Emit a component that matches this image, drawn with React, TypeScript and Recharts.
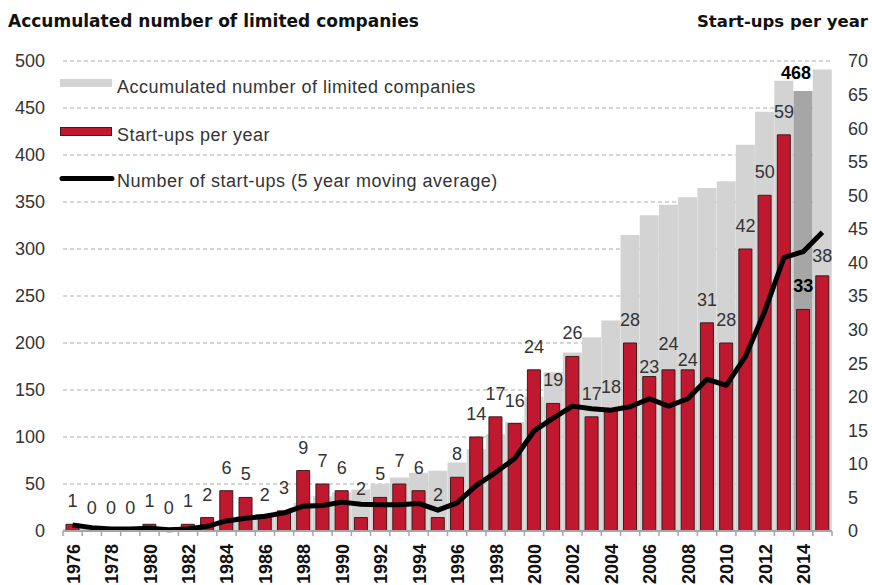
import { Bar, CartesianGrid, Cell, ComposedChart, LabelList, Line, XAxis, YAxis } from 'recharts'

const years = [
  1976, 1977, 1978, 1979, 1980, 1981, 1982, 1983, 1984, 1985,
  1986, 1987, 1988, 1989, 1990, 1991, 1992, 1993, 1994, 1995,
  1996, 1997, 1998, 1999, 2000, 2001, 2002, 2003, 2004, 2005,
  2006, 2007, 2008, 2009, 2010, 2011, 2012, 2013, 2014, 2015,
]

// start-ups per year (right axis)
const startups = [
  1, 0, 0, 0, 1, 0, 1, 2, 6, 5,
  2, 3, 9, 7, 6, 2, 5, 7, 6, 2,
  8, 14, 17, 16, 24, 19, 26, 17, 18, 28,
  23, 24, 24, 31, 28, 42, 50, 59, 33, 38,
]

// accumulated number of limited companies (left axis)
const accumulated = [
  2, 2, 2, 2, 3, 3, 4, 6, 12, 16,
  18, 21, 30, 37, 41, 44, 50, 57, 62, 64,
  73, 87, 103, 116, 143, 169, 190, 206, 224, 315,
  336, 347, 355, 365, 372, 411, 446, 479, 468, 491,
]

// 5 year moving average (right axis)
const movingAvg = [
  0.9, 0.5, 0.3, 0.3, 0.4, 0.2, 0.3, 0.7, 1.5, 1.9,
  2.2, 2.7, 3.7, 3.8, 4.3, 4.0, 3.9, 3.9, 4.1, 3.1,
  4.2, 6.8, 8.7, 10.8, 14.9, 16.8, 18.6, 18.2, 18.0, 18.5,
  19.7, 18.6, 19.7, 22.6, 21.7, 26.0, 32.7, 40.7, 41.6, 44.5,
]

const leftTicks = [0, 50, 100, 150, 200, 250, 300, 350, 400, 450, 500]
const rightTicks = [0, 5, 10, 15, 20, 25, 30, 35, 40, 45, 50, 55, 60, 65, 70]

const HIGHLIGHT_YEAR = 2014

const data = years.map((year, i) => ({
  year,
  startups: startups[i],
  accumulated: accumulated[i],
  avg: movingAvg[i],
}))

const W = 872
const H = 585
const LEFT_W = 63
const RIGHT_W = 40
const TOP = 61
const X_H = 54
const BAND = (W - LEFT_W - RIGHT_W) / years.length

const FONT = '"Liberation Sans", Arial, Helvetica, sans-serif'
const TITLE_FONT = '"DejaVu Sans", "Liberation Sans", Arial, sans-serif'
const RED = '#c0182f'
const GRAY = '#d3d3d3'
const DARK_GRAY = '#a6a6a6'
const TEXT = '#333333'
const AXIS = '#a6a6a6'

// a few labels are nudged up/down in the original to avoid collisions
const LABEL_NUDGE: Record<number, number> = { 1991: -6, 2006: 13, 2007: -3, 2008: 13, 2015: 3 }

function YearTick(props: any) {
  const { x, y, payload, index } = props
  const year = payload.value as number
  const left = x - BAND / 2
  return (
    <g>
      <line x1={left} x2={left} y1={y} y2={y + 5} stroke={AXIS} strokeWidth={1.5} />
      {index === years.length - 1 && (
        <line x1={x + BAND / 2} x2={x + BAND / 2} y1={y} y2={y + 5} stroke={AXIS} strokeWidth={1.5} />
      )}
      {year % 2 === 0 && (
        <text
          transform={`translate(${x + 7},${y + 13}) rotate(-90)`}
          textAnchor="end"
          fontFamily={FONT}
          fontSize={18}
          fontWeight={700}
          fill="#111"
        >
          {year}
        </text>
      )}
    </g>
  )
}

// labels sit on an invisible line so that zero years still get their "0"
function StartupLabel(props: any) {
  const { x, y, value, index } = props
  const year = years[index]
  const bold = year === HIGHLIGHT_YEAR
  return (
    <text
      x={x}
      y={y - 17 + (LABEL_NUDGE[year] ?? 0)}
      textAnchor="middle"
      fontFamily={FONT}
      fontSize={18}
      fontWeight={bold ? 700 : 400}
      fill={bold ? '#000' : TEXT}
    >
      {value}
    </text>
  )
}

function AccumLabel(props: any) {
  const { x, y, width, value, index } = props
  if (years[index] !== HIGHLIGHT_YEAR) return null
  return (
    <text x={x + width / 2 - 7} y={y - 12} textAnchor="middle" fontFamily={FONT} fontSize={18} fontWeight={700} fill="#000">
      {value}
    </text>
  )
}

function Overlay() {
  return (
    <svg width={W} height={H} style={{ position: 'absolute', left: 0, top: 0, pointerEvents: 'none' }}>
      <text x={8} y={27} fontFamily={TITLE_FONT} fontSize={17} fontWeight={700} fill="#111">
        Accumulated number of limited companies
      </text>
      <text x={868} y={27} textAnchor="end" fontFamily={TITLE_FONT} fontSize={16.5} fontWeight={700} fill="#111">
        Start-ups per year
      </text>

      <rect x={60} y={79} width={52} height={8} fill={GRAY} />
      <text x={117} y={93} fontFamily={FONT} fontSize={18} letterSpacing={0.5} fill={TEXT}>
        Accumulated number of limited companies
      </text>

      <rect x={60.5} y={127.5} width={51} height={8} fill={RED} stroke="#3d1c1c" strokeWidth={1} />
      <text x={117} y={141} fontFamily={FONT} fontSize={18} letterSpacing={0.5} fill={TEXT}>
        Start-ups per year
      </text>

      <line x1={62} x2={112} y1={178.5} y2={178.5} stroke="#000" strokeWidth={5} strokeLinecap="round" />
      <text x={117} y={187} fontFamily={FONT} fontSize={18} letterSpacing={0.5} fill={TEXT}>
        Number of start-ups (5 year moving average)
      </text>
    </svg>
  )
}

export default function App() {
  return (
    <div style={{ position: 'absolute', left: 0, top: 0, width: W, height: H, background: '#fff' }}>
      <ComposedChart
        width={W}
        height={H}
        data={data}
        margin={{ top: TOP, right: 0, bottom: 0, left: 0 }}
        barCategoryGap={0}
        barGap={0}
      >
        <CartesianGrid vertical={false} stroke="#ababab" strokeDasharray="4 3" />
        <XAxis xAxisId="bg" dataKey="year" hide />
        <XAxis
          dataKey="year"
          interval={0}
          height={X_H}
          tickSize={0}
          tickMargin={0}
          tickLine={false}
          axisLine={{ stroke: AXIS, strokeWidth: 2 }}
          tick={<YearTick />}
        />
        <YAxis
          domain={[0, 500]}
          ticks={leftTicks}
          width={LEFT_W}
          axisLine={false}
          tickLine={false}
          tickSize={0}
          tickMargin={18}
          tick={{ fill: TEXT, fontSize: 18, fontFamily: FONT }}
        />
        <YAxis
          yAxisId="right"
          orientation="right"
          domain={[0, 70]}
          ticks={rightTicks}
          width={RIGHT_W}
          axisLine={false}
          tickLine={false}
          tickSize={0}
          tickMargin={16}
          tick={{ fill: TEXT, fontSize: 18, fontFamily: FONT, textAnchor: 'start' }}
        />
        <Bar xAxisId="bg" dataKey="accumulated" fill={GRAY} isAnimationActive={false}>
          {data.map((d) => (
            <Cell key={d.year} fill={d.year === HIGHLIGHT_YEAR ? DARK_GRAY : GRAY} />
          ))}
          <LabelList dataKey="accumulated" content={<AccumLabel />} />
        </Bar>
        <Bar yAxisId="right" dataKey="startups" barSize={13} fill={RED} stroke="#3d1c1c" strokeWidth={1} isAnimationActive={false} />
        <Line
          yAxisId="right"
          dataKey="startups"
          stroke="none"
          dot={false}
          activeDot={false}
          legendType="none"
          isAnimationActive={false}
        >
          <LabelList dataKey="startups" content={<StartupLabel />} />
        </Line>
        <Line
          yAxisId="right"
          dataKey="avg"
          type="linear"
          stroke="#000"
          strokeWidth={5}
          strokeLinejoin="round"
          dot={false}
          activeDot={false}
          isAnimationActive={false}
        />
      </ComposedChart>
      <Overlay />
    </div>
  )
}
